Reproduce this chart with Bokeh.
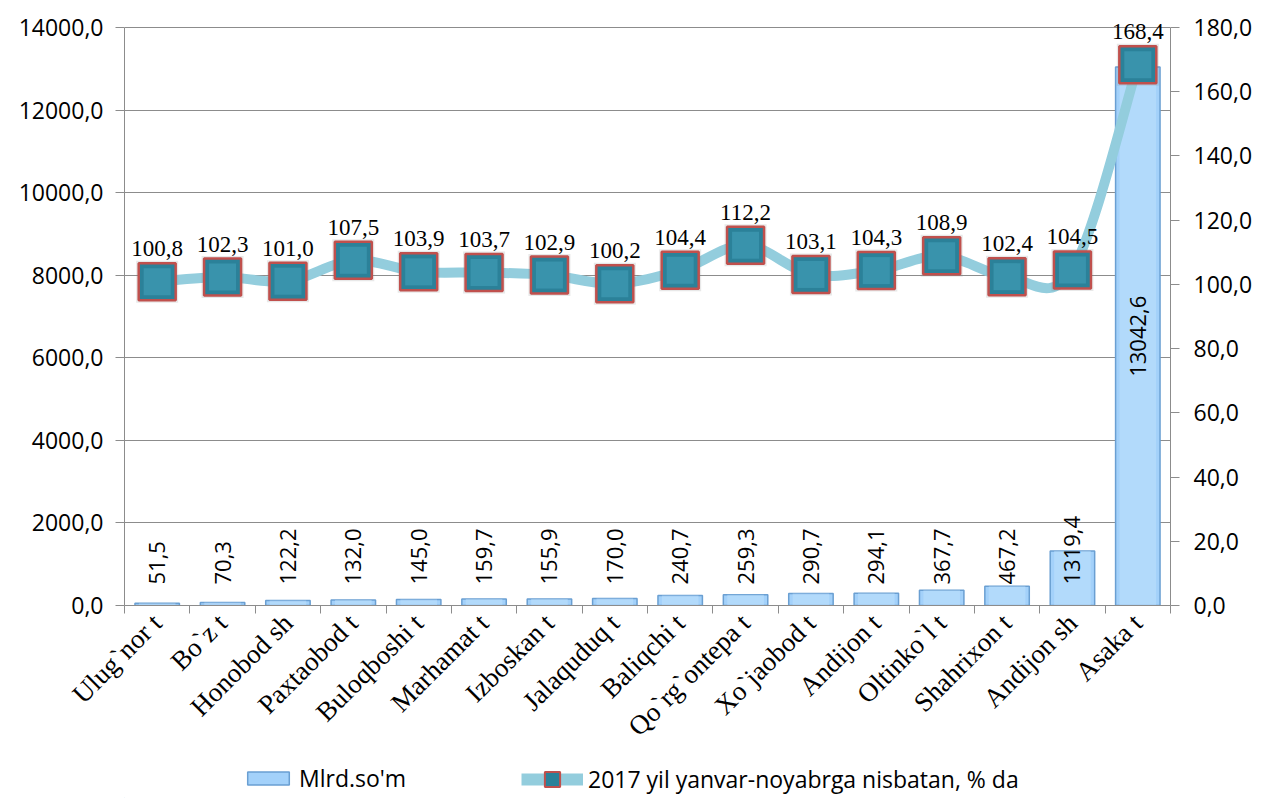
import math
from bokeh.plotting import figure
from bokeh.layouts import column
from bokeh.models import (Range1d, LinearAxis, FixedTicker, CustomJSTickFormatter,
                          ColumnDataSource, Legend, LegendItem)
from bokeh.core.properties import value
from bokeh.embed import file_html
from bokeh.resources import INLINE

# ---------------- data ----------------
categories = ["Ulug`nor t", "Bo`z t", "Honobod sh", "Paxtaobod t", "Buloqboshi t",
              "Marhamat t", "Izboskan t", "Jalaquduq t", "Baliqchi t", "Qo`rg`ontepa t",
              "Xo`jaobod t", "Andijon t", "Oltinko`l t", "Shahrixon t", "Andijon sh", "Asaka t"]
mlrd = [51.5, 70.3, 122.2, 132.0, 145.0, 159.7, 155.9, 170.0, 240.7, 259.3,
        290.7, 294.1, 367.7, 467.2, 1319.4, 13042.6]
pct = [100.8, 102.3, 101.0, 107.5, 103.9, 103.7, 102.9, 100.2, 104.4, 112.2,
       103.1, 104.3, 108.9, 102.4, 104.5, 168.4]
left_ticks = [0, 2000, 4000, 6000, 8000, 10000, 12000, 14000]
right_ticks = [0, 20, 40, 60, 80, 100, 120, 140, 160, 180]
bar_name = "Mlrd.so'm"
line_name = "2017 yil yanvar-noyabrga nisbatan, % da"

# ---------------- styles ----------------
GRID = "#8c8c8c"
SANS = "Open Sans"
SERIF = "Liberation Serif"
BAR_FILL, BAR_LINE = "#a3d1fa", "#6a9fd2"
LINE_COL = "#93cddd"
MK_FILL, MK_LINE, MK_INNER = "#2b8199", "#c0504d", "#3993ac"

n = len(categories)
xs = [i + 0.5 for i in range(n)]
L_MAX, R_MAX = left_ticks[-1], right_ticks[-1]
# axes top at 27px, frame extended up to 10px so the top data label is not clipped
AXIS_PX, FRAME_PX = 578, 595
HEAD = FRAME_PX / AXIS_PX

def fmt(v):
    return f"{v:.1f}".replace(".", ",")

W = 1255
p = figure(width=W, height=760, x_range=Range1d(0, n), y_range=Range1d(0, L_MAX * HEAD),
           output_backend="svg", toolbar_location=None,
           min_border_left=124, min_border_right=81, min_border_top=10, min_border_bottom=155)
p.extra_y_ranges = {"pct": Range1d(0, R_MAX * HEAD)}
p.outline_line_color = None
p.background_fill_color = "white"
p.xgrid.grid_line_color = None
p.ygrid.grid_line_color = GRID
p.ygrid.grid_line_width = 1

# left axis
yax = p.yaxis[0]
yax.ticker = FixedTicker(ticks=left_ticks)
yax.bounds = (0, L_MAX)
yax.formatter = CustomJSTickFormatter(code="return tick.toFixed(1).replace('.', ',');")
yax.axis_line_color = GRID
yax.major_tick_line_color = GRID
yax.major_tick_out = 9
yax.major_tick_in = 0
yax.minor_tick_line_color = None
yax.major_label_text_font = SANS
yax.major_label_text_font_size = "23px"
yax.major_label_text_color = "black"
yax.major_label_standoff = 12

# right axis
rax = LinearAxis(y_range_name="pct", ticker=FixedTicker(ticks=right_ticks), bounds=(0, R_MAX),
                 formatter=CustomJSTickFormatter(code="return tick.toFixed(1).replace('.', ',');"))
rax.axis_line_color = GRID
rax.major_tick_line_color = GRID
rax.major_tick_out = 9
rax.major_tick_in = 0
rax.minor_tick_line_color = None
rax.major_label_text_font = SANS
rax.major_label_text_font_size = "23px"
rax.major_label_text_color = "black"
rax.major_label_standoff = 14
p.add_layout(rax, "right")

# x axis
xax = p.xaxis[0]
xax.ticker = FixedTicker(ticks=xs, minor_ticks=list(range(n + 1)))
xax.formatter = CustomJSTickFormatter(args=dict(labels=categories),
                                      code="return labels[Math.floor(tick)];")
xax.axis_line_color = GRID
xax.major_tick_line_color = None
xax.major_tick_out = 0
xax.major_tick_in = 0
xax.minor_tick_line_color = GRID
xax.minor_tick_out = 8
xax.minor_tick_in = 0
xax.major_label_orientation = math.pi / 4
xax.major_label_text_font = SERIF
xax.major_label_text_font_size = "27px"
xax.major_label_text_color = "black"
xax.major_label_standoff = 5

# ---------------- bars ----------------
bsrc = ColumnDataSource(dict(x=xs, top=mlrd, lab=[fmt(v) for v in mlrd]))
p.vbar(x="x", top="top", width=0.68, source=bsrc,
       fill_color=BAR_FILL, line_color=BAR_LINE, line_width=1.5)
p.vbar(x="x", top="top", width=0.56, source=bsrc, fill_color="#c6e4fd",
       fill_alpha=0.45, line_color=None)

small = [i for i, v in enumerate(mlrd) if v < 5000]
big = [i for i, v in enumerate(mlrd) if v >= 5000]
s_small = ColumnDataSource(dict(x=[xs[i] for i in small], y=[0] * len(small),
                                lab=[fmt(mlrd[i]) for i in small]))
s_big = ColumnDataSource(dict(x=[xs[i] for i in big], y=[mlrd[i] / 2 for i in big],
                              lab=[fmt(mlrd[i]) for i in big]))
p.text(x="x", y="y", text="lab", source=s_small, angle=math.pi / 2, y_offset=-21,
       text_align="left", text_baseline="middle", text_font=value(SANS),
       text_font_size="22px", text_color="black")
p.text(x="x", y="y", text="lab", source=s_big, angle=math.pi / 2,
       text_align="center", text_baseline="middle", text_font=value(SANS),
       text_font_size="22px", text_color="black")

# ---------------- smoothed line (Bezier through data points) ----------------
x0, y0, x1, y1, cx0, cy0, cx1, cy1 = [], [], [], [], [], [], [], []
for i in range(n - 1):
    xp = xs[i - 1] if i > 0 else xs[i]
    yp = pct[i - 1] if i > 0 else pct[i]
    xn = xs[i + 2] if i + 2 < n else xs[i + 1]
    yn = pct[i + 2] if i + 2 < n else pct[i + 1]
    x0.append(xs[i]); y0.append(pct[i])
    x1.append(xs[i + 1]); y1.append(pct[i + 1])
    cx0.append(xs[i] + (xs[i + 1] - xp) / 6); cy0.append(pct[i] + (pct[i + 1] - yp) / 6)
    cx1.append(xs[i + 1] - (xn - xs[i]) / 6); cy1.append(pct[i + 1] - (yn - pct[i]) / 6)
p.bezier(x0=x0, y0=y0, x1=x1, y1=y1, cx0=cx0, cy0=cy0, cx1=cx1, cy1=cy1,
         y_range_name="pct", line_color=LINE_COL, line_width=10, line_cap="round")

lsrc = ColumnDataSource(dict(x=xs, y=pct, lab=[fmt(v) for v in pct]))
p.scatter(x="x", y="y", source=lsrc, y_range_name="pct", marker="square", size=42,
          fill_color="#7f7f7f", fill_alpha=0.18, line_color=None)
p.scatter(x="x", y="y", source=lsrc, y_range_name="pct", marker="square", size=37,
          fill_color=MK_FILL, line_color=MK_LINE, line_width=2.5)
p.scatter(x="x", y="y", source=lsrc, y_range_name="pct", marker="square", size=27,
          fill_color=MK_INNER, line_color=None)
p.text(x="x", y="y", text="lab", source=lsrc, y_range_name="pct", y_offset=-33,
       text_align="center", text_baseline="alphabetic", text_font=value(SERIF),
       text_font_size="23px", text_color="black")

# ---------------- legend strip (separate small figure, frame aligned with main) ----------------
LH = 38
lf = figure(width=W, height=LH, output_backend="svg", toolbar_location=None,
            x_axis_type=None, y_axis_type=None, x_range=Range1d(0, 1), y_range=Range1d(0, 1),
            min_border_left=124, min_border_right=81, min_border_top=0, min_border_bottom=0)
lf.outline_line_color = None
lf.xgrid.grid_line_color = None
lf.ygrid.grid_line_color = None
# proxy renderers for the legend, placed outside the visible range
proxy = ColumnDataSource(dict(x=[-5], y=[-5], top=[-5]))
r_bar = lf.vbar(x="x", top="top", width=0.5, source=proxy,
                fill_color=BAR_FILL, line_color=BAR_LINE, line_width=1.5)
r_line = lf.line(x="x", y="y", source=proxy, line_color=LINE_COL, line_width=12)
r_mk = lf.scatter(x="x", y="y", source=proxy, marker="square", size=18,
                  fill_color=MK_FILL, line_color=MK_LINE, line_width=2)

def make_legend(label, renderers, loc, gw, gh):
    lg = Legend(items=[LegendItem(label=label, renderers=renderers)], location=loc,
                glyph_width=gw, glyph_height=gh)
    lg.border_line_color = None
    lg.background_fill_alpha = 0
    lg.padding = 0
    lg.margin = 0
    lg.spacing = 0
    lg.label_text_font = SANS
    lg.label_text_font_size = "23px"
    lg.label_text_color = "black"
    lg.label_standoff = 5
    lg.label_height = 16
    return lg

lf.add_layout(make_legend(bar_name, [r_bar], (118, 4), 52, 16), "center")
lf.add_layout(make_legend(line_name, [r_line, r_mk], (397, 0), 62, LH), "center")

layout = column(p, lf, spacing=0)
open("out.html", "w").write(file_html(layout, INLINE))
